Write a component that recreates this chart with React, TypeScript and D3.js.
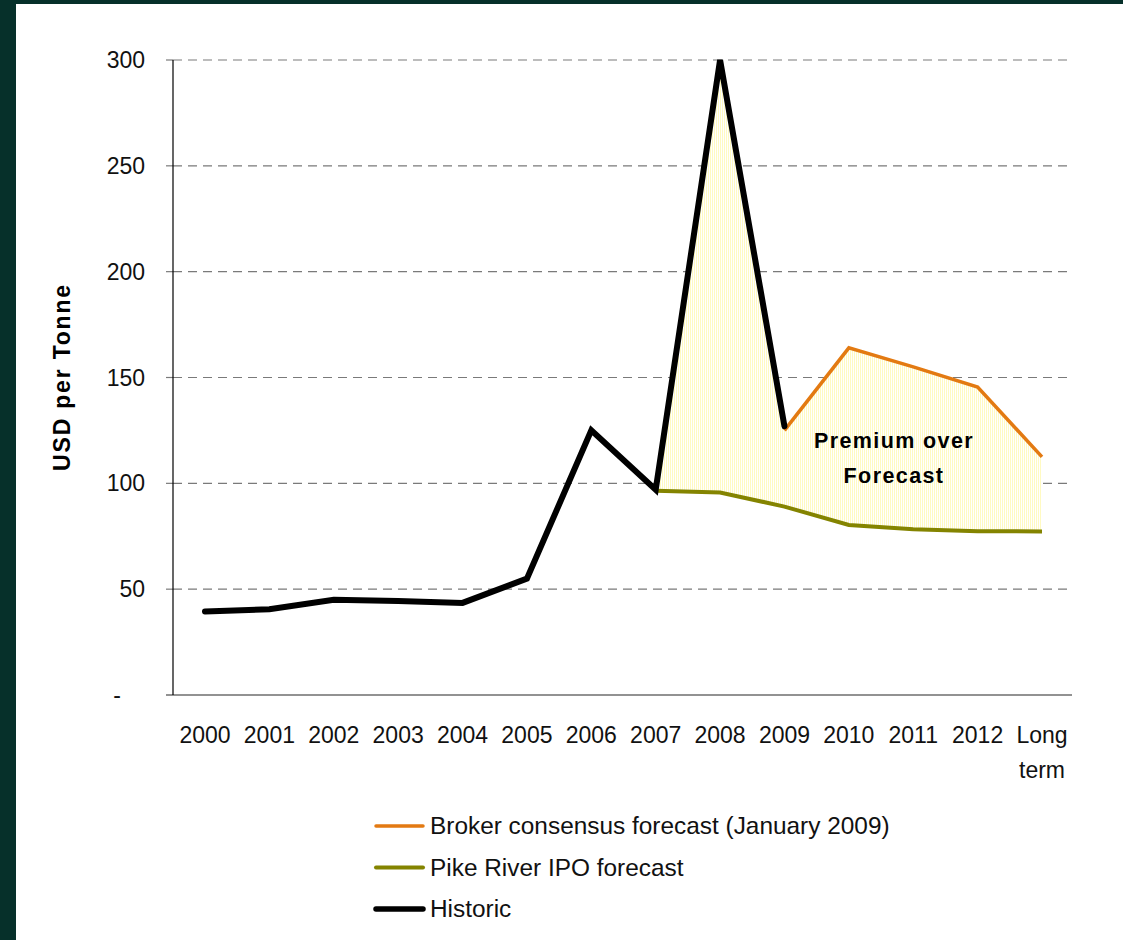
import React from "react";
import * as d3 from "d3";

const categories = ["2000","2001","2002","2003","2004","2005","2006","2007","2008","2009","2010","2011","2012","Long term"];
const historic: (number|null)[] = [39.5, 40.5, 45, 44.4, 43.5, 55, 125, 97, 300, 127, null, null, null, null];
const broker: (number|null)[] = [null, null, null, null, null, null, null, null, null, 125, 164, 155, 145.5, 112.5];
const pike: (number|null)[] = [null, null, null, null, null, null, null, 96.5, 95.7, 89, 80.3, 78.3, 77.4, 77.3];
const yTicks = [0, 50, 100, 150, 200, 250, 300];
const legendItems = [
  { label: "Broker consensus forecast (January 2009)", color: "#e37a12", width: 3.5 },
  { label: "Pike River IPO forecast", color: "#848400", width: 4 },
  { label: "Historic", color: "#000000", width: 5.5 },
];

const W = 1123, H = 940;
const left = 173, right = 1072, top = 60, bottom = 695;

export default function App() {
  const x = d3.scalePoint<string>().domain(categories).range([left + 32, right - 30]);
  const y = d3.scaleLinear().domain([0, 300]).range([bottom, top]);

  type P = { c: string; v: number | null };
  const mk = (arr: (number|null)[]) => categories.map((c, i) => ({ c, v: arr[i] }));
  const line = d3.line<P>().defined(d => d.v !== null).x(d => x(d.c)!).y(d => y(d.v as number));

  const fillData = categories.map((c, i) => {
    const lo = pike[i];
    const hi = broker[i] !== null ? broker[i] : historic[i];
    return { c, lo, hi };
  }).filter(d => d.lo !== null && d.hi !== null) as { c: string; lo: number; hi: number }[];
  const area = d3.area<{ c: string; lo: number; hi: number }>()
    .x(d => x(d.c)!).y0(d => y(d.lo)).y1(d => y(d.hi));

  const font = "'Liberation Sans', Arial, sans-serif";

  return (
    <div style={{ position: "absolute", left: 0, top: 0 }}>
      <svg width={W} height={H} style={{ display: "block", background: "#ffffff" }}>
        <defs>
          <pattern id="stripes" width="2" height="4" patternUnits="userSpaceOnUse">
            <rect x="0" y="0" width="2" height="4" fill="#ffffff" />
            <rect x="0" y="0" width="1" height="4" fill="#fffac2" />
          </pattern>
        </defs>
        <rect x={0} y={0} width={W} height={4} fill="#06302a" />
        <rect x={0} y={0} width={16} height={H} fill="#06302a" />

        {/* gridlines */}
        {yTicks.filter(t => t > 0).map(t => (
          <g key={t}>
            <line x1={left} x2={right} y1={y(t)} y2={y(t)} stroke="#7a7a7a" strokeWidth={1.2} strokeDasharray="9,6" />
            <line x1={left - 7} x2={left} y1={y(t)} y2={y(t)} stroke="#7a7a7a" strokeWidth={1.2} />
          </g>
        ))}
        {/* y tick labels */}
        {yTicks.map(t => (
          <text key={t} x={t === 0 ? 121 : 145} y={y(t) + 8} textAnchor="end" fontFamily={font} fontSize={23} fill="#111">
            {t === 0 ? "-" : String(t)}
          </text>
        ))}

        {/* fill */}
        <path d={area(fillData) || ""} fill="url(#stripes)" />

        {/* axes */}
        <line x1={left - 7} x2={right} y1={bottom} y2={bottom} stroke="#6e6e6e" strokeWidth={1.5} />
        <line x1={left} x2={left} y1={top} y2={bottom} stroke="#000" strokeWidth={1.2} />

        {/* lines */}
        <path d={line(mk(pike)) || ""} fill="none" stroke="#848400" strokeWidth={4} />
        <path d={line(mk(broker)) || ""} fill="none" stroke="#e37a12" strokeWidth={3.5} />
        <path d={line(mk(historic)) || ""} fill="none" stroke="#000" strokeWidth={6} strokeLinecap="round" />

        {/* x labels */}
        {categories.map(c => {
          const parts = c.split(" ");
          return (
            <text key={c} x={x(c)!} y={743} textAnchor="middle" fontFamily={font} fontSize={23} fill="#111">
              {parts.map((p, i) => (
                <tspan key={i} x={x(c)!} dy={i === 0 ? 0 : 35}>{p}</tspan>
              ))}
            </text>
          );
        })}

        {/* y title */}
        <text transform="translate(70,377) rotate(-90)" textAnchor="middle" fontFamily={font} fontWeight="bold" fontSize={23} letterSpacing={1.8} fill="#000">
          USD per Tonne
        </text>

        {/* annotation */}
        <text x={894} y={448} textAnchor="middle" fontFamily={font} fontWeight="bold" fontSize={21.5} letterSpacing={1.4} fill="#000">
          Premium over
        </text>
        <text x={894} y={483} textAnchor="middle" fontFamily={font} fontWeight="bold" fontSize={21.5} letterSpacing={1.4} fill="#000">
          Forecast
        </text>

        {/* legend */}
        {legendItems.map((it, i) => {
          const ly = 826 + i * 41.5;
          return (
            <g key={it.label}>
              <line x1={376} x2={423} y1={ly} y2={ly} stroke={it.color} strokeWidth={it.width} strokeLinecap="round" />
              <text x={430} y={ly + 8} fontFamily={font} fontSize={24.4} fill="#111">{it.label}</text>
            </g>
          );
        })}
      </svg>
    </div>
  );
}
